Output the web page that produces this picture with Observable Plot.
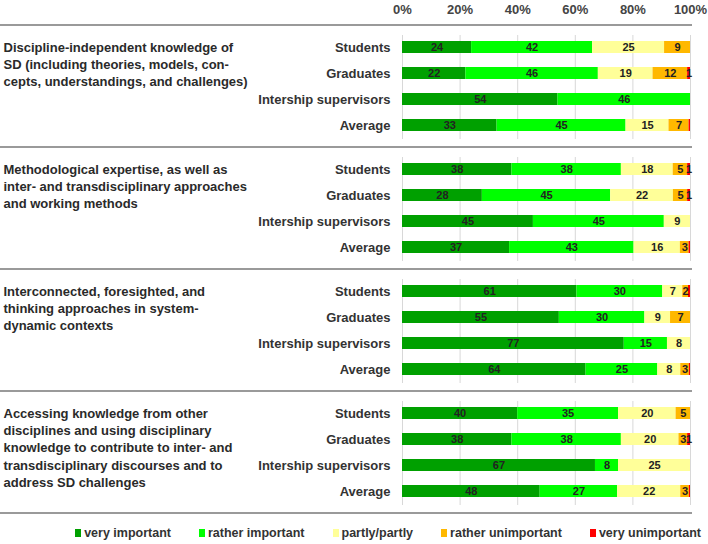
<!DOCTYPE html>
<html><head><meta charset="utf-8">
<script src="https://cdn.jsdelivr.net/npm/d3@7"></script>
<script src="https://cdn.jsdelivr.net/npm/@observablehq/plot@0.6"></script>
<style>
body{margin:0;background:#fff;font-family:"Liberation Sans",Arial,sans-serif;}
#legend{display:flex;justify-content:flex-end;gap:28px;padding-right:7px;font-weight:bold;font-size:12.5px;color:#333;margin-top:10px;line-height:14px}
#legend span.sw{display:inline-block;width:6px;height:8px;margin-right:3px;vertical-align:0px}
</style></head><body><div id="chart"></div><div id="legend"></div>
<script>
const groups = ["G1","G2","G3","G4"];
const groupTitles = [
  "Discipline-independent knowledge of\nSD (including theories, models, con-\ncepts, understandings, and challenges)",
  "Methodological expertise, as well as\ninter- and transdisciplinary approaches\nand working methods",
  "Interconnected, foresighted, and\nthinking approaches in system-\ndynamic contexts",
  "Accessing knowledge from other\ndisciplines and using disciplinary\nknowledge to contribute to inter- and\ntransdisciplinary discourses and to\naddress SD challenges"
];
const categories = ["Students","Graduates","Intership supervisors","Average"];
const levels = ["very important","rather important","partly/partly","rather unimportant","very unimportant"];
const levelColors = ["#00a000","#00ff00","#ffff99","#ffb800","#ff0000"];
const xTicks = [0,0.2,0.4,0.6,0.8,1];

// values per category: [very, rather, partly, rather unimp., very unimp.]
const g1Values = [[24,42,25,9,0],[22,46,19,12,1],[54,46,0,0,0],[33,45,15,7,0.5]];
const g2Values = [[38,38,18,5,1],[28,45,22,5,1],[45,45,9,0,0],[37,43,16,3,0.5]];
const g3Values = [[61,30,7,2,0.7],[55,30,9,7,0],[77,15,8,0,0],[64,25,8,3,0.4]];
const g4Values = [[40,35,20,5,0],[38,38,20,3,1],[67,8,25,0,0],[48,27,22,3,0.4]];
const allValues = [g1Values,g2Values,g3Values,g4Values];

const table = [];
groups.forEach((g,gi)=>categories.forEach((c,ci)=>levels.forEach((l,li)=>{
  const v = allValues[gi][ci][li];
  if (v > 0) table.push({group:g, category:c, level:l, value:v});
})));
const titleRows = groups.map((g,i)=>({group:g, title:groupTitles[i]}));

const chart = Plot.plot({
  width: 708, height: 516,
  marginLeft: 402, marginRight: 18, marginTop: 24, marginBottom: 2,
  style: {fontFamily: "'Liberation Sans', Arial, sans-serif", fontSize: "12px", fontWeight: "bold", color: "#333", background: "#fff"},
  x: {domain: [0,1], axis: null},
  y: {domain: categories, paddingInner: 0.54, paddingOuter: 0.27, insetTop: 9, insetBottom: 9, label: null, axis: null},
  fy: {domain: groups, padding: 0, axis: null, label: null},
  color: {domain: levels, range: levelColors},
  marks: [
    Plot.gridX({ticks: xTicks, stroke: "#d8d8d8", strokeOpacity: 1, insetTop: 10, insetBottom: 8}),
    Plot.barX(table, Plot.stackX({offset: "normalize", x: "value", y: "category", fy: "group", fill: "level"})),
    Plot.textX(table, Plot.stackX({offset: "normalize", x: "value", y: "category", fy: "group",
      text: d => d.value >= 1 ? String(d.value) : "", fontSize: 11, fill: "#222", fontWeight: "bold"})),
    Plot.axisX({anchor: "top", ticks: xTicks, tickFormat: d3.format(".0%"), tickSize: 0, tickPadding: 12, label: null, fontSize: 13, fill: "#444"}),
    Plot.axisY({anchor: "left", tickSize: 0, tickPadding: 12, label: null, fontSize: 13, fill: "#333"}),
    Plot.text(titleRows, {fy: "group", y: () => categories[0], frameAnchor: "left", dx: -399, dy: -8,
      textAnchor: "start", lineAnchor: "top", lineHeight: 1.33, text: "title", fontSize: 13, fill: "#2a2a2a"})
  ]
});
document.getElementById("chart").appendChild(chart);

// separator rules at facet boundaries, positioned with Plot's fy scale
const fy = chart.scale("fy");
const bounds = groups.map(g => fy.apply(g)).concat([fy.apply(groups[groups.length-1]) + fy.bandwidth]);
d3.select(chart).append("g").selectAll("line").data(bounds).join("line")
  .attr("x1", 0).attr("x2", 692).attr("y1", d => d).attr("y2", d => d)
  .attr("stroke", "#9a9a9a").attr("stroke-width", 2);

const legend = d3.select("#legend");
levels.forEach((l,i)=>{
  const it = legend.append("div");
  it.append("span").attr("class","sw").style("background", levelColors[i]);
  it.append("span").text(l);
});
</script>
</body></html>
